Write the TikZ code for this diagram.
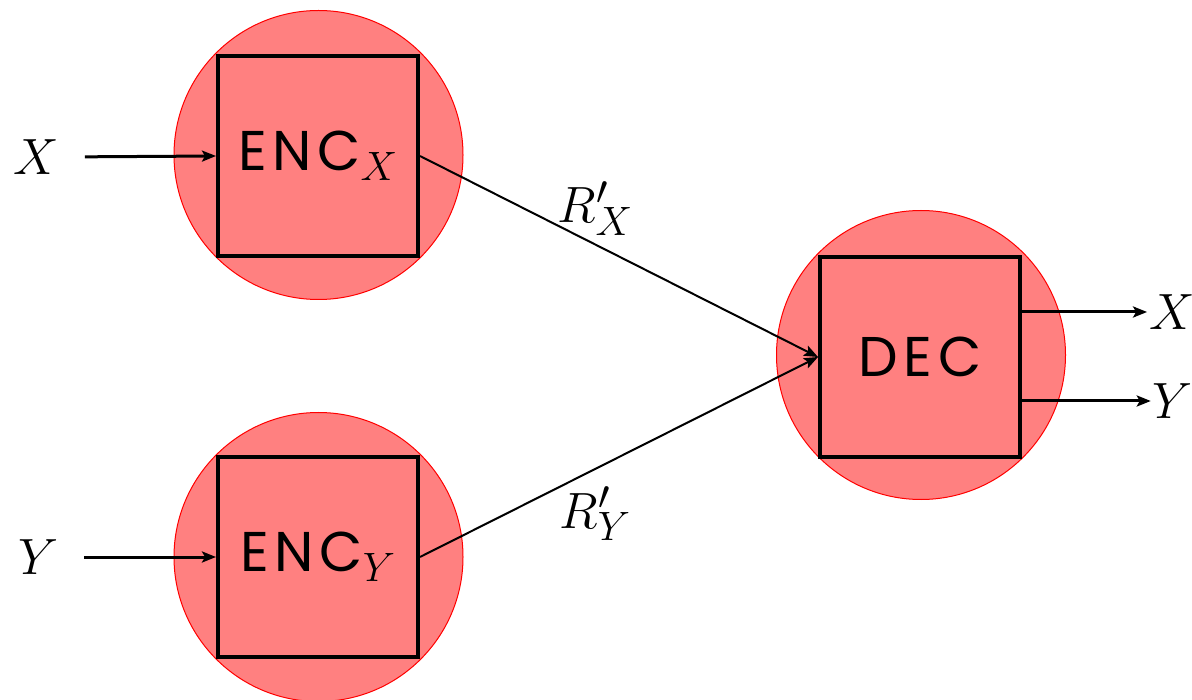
\RequirePackage{fix-cm}
\documentclass[tikz,border=0pt]{standalone}
\usepackage{fontspec}
\newfontfamily\encfont[LetterSpace=10]{Poppins}
\usetikzlibrary{arrows.meta}
\DeclareMathSizes{51}{51}{41}{33}
\DeclareMathSizes{56}{51}{41}{33}
\tikzset{
  every node/.style={font=\fontsize{51}{60}\selectfont, inner sep=0pt},
  halo/.style={circle, minimum size=289pt, fill=red!50, draw=red, line width=1pt},
  blockbox/.style={rectangle, minimum size=200pt, draw=black, line width=4pt,
    font=\fontsize{56}{64}\selectfont},
  tip/.style={-{Stealth[length=14pt,width=11pt,inset=3pt]}},
  feed/.style={tip, line width=3pt},
  link/.style={tip, line width=2pt},
}
\begin{document}
\begin{tikzpicture}[x=1pt,y=-1pt]
\useasboundingbox (0,0) rectangle (1192,700);
% halos
\node[halo] (hx) at (318.5,155) {};
\node[halo] (hy) at (318.5,557) {};
\node[halo] (hd) at (921,355) {};
% blocks
\node[blockbox] (encx) at (318,156) {$\mbox{\encfont ENC}_X$};
\node[blockbox] (ency) at (318,557) {$\mbox{\encfont ENC}_Y$};
\node[blockbox] (dec) at (920,357) {\encfont DEC};
% inputs / outputs
\node (xin) at (36,157) {$X$};
\node (yin) at (39,557) {$Y$};
\node (xout) at (1172,312) {$X$};
\node (yout) at (1173,401) {$Y$};
% connectors
\draw[feed, shorten <=26pt] (xin.east) -- (encx.west);
\draw[feed, shorten <=25pt] (yin.east) -- (ency.west);
\draw[link] (encx.east) -- (dec.west) node[pos=0.44, above=8pt] {$R'_X$};
\draw[link] (ency.east) -- (dec.west) node[pos=0.44, below=17pt] {$R'_Y$};
\draw[feed, shorten >=2pt] ([yshift=45pt]dec.east) -- (xout.west);
\draw[feed, shorten >=2pt] ([yshift=-44pt]dec.east) -- (yout.west);
\end{tikzpicture}
\end{document}
